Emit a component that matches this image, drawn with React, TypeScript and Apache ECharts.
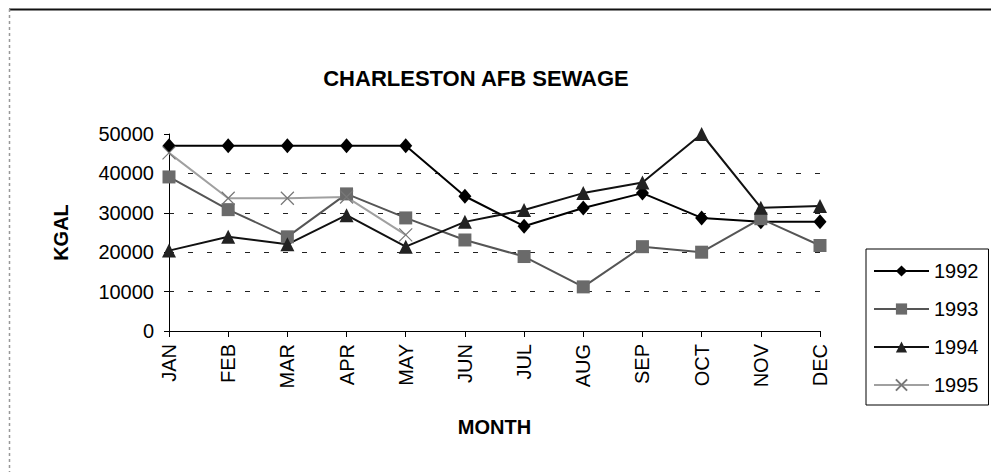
import React, { useEffect, useRef } from "react";
import * as echarts from "echarts";

const months = ["JAN", "FEB", "MAR", "APR", "MAY", "JUN", "JUL", "AUG", "SEP", "OCT", "NOV", "DEC"];
const s1992 = [47000, 47000, 47000, 47000, 47000, 34200, 26600, 31200, 35000, 28700, 27700, 27700];
const s1993 = [39100, 30800, 23900, 34800, 28700, 23100, 18900, 11200, 21400, 20000, 28500, 21700];
const s1994 = [20400, 23900, 22000, 29400, 21400, 27700, 30700, 35000, 37700, 50000, 31300, 31700];
const s1995 = [45200, 33700, 33700, 34000, 24400, null, null, null, null, null, null, null];
const yTicks = { min: 0, max: 50000, interval: 10000 };

const FONT = "'Liberation Sans', Arial, sans-serif";

export default function App() {
  const ref = useRef<HTMLDivElement>(null);
  useEffect(() => {
    if (!ref.current) return;
    const chart = echarts.init(ref.current, null, { renderer: "svg" });
    chart.setOption({
      animation: false,
      backgroundColor: "#ffffff",
      textStyle: { fontFamily: FONT },
      title: {
        text: "CHARLESTON AFB SEWAGE",
        left: 471,
        top: 62,
        textAlign: "center",
        textStyle: { fontFamily: FONT, fontSize: 22, fontWeight: "bold", color: "#000" },
      },
      graphic: [
        { type: "line", shape: { x1: 9, y1: 9.5, x2: 991, y2: 9.5 }, style: { stroke: "#111", lineWidth: 2 } },
        { type: "line", shape: { x1: 9.5, y1: 9, x2: 9.5, y2: 472 }, style: { stroke: "#999", lineWidth: 1.5, lineDash: [3, 3] } },
      ],
      legend: {
        orient: "vertical",
        left: 866,
        top: 249,
        padding: [12, 10, 10, 7],
        itemWidth: 55,
        itemHeight: 14,
        itemGap: 18,
        borderColor: "#000",
        borderWidth: 1,
        textStyle: { fontFamily: FONT, fontSize: 20, color: "#000" },
        data: ["1992", "1993", "1994", "1995"],
      },
      grid: { left: 169, right: 171, top: 134, bottom: 141 },
      xAxis: {
        type: "category",
        data: months,
        boundaryGap: false,
        name: "MONTH",
        nameLocation: "middle",
        nameGap: 86,
        nameTextStyle: { fontFamily: FONT, fontSize: 20, fontWeight: "bold", color: "#000", verticalAlign: "top" },
        axisLine: { lineStyle: { color: "#000", width: 1 } },
        axisTick: { show: true, length: 6, lineStyle: { color: "#000" } },
        axisLabel: { rotate: 90, margin: 13, fontFamily: FONT, fontSize: 20, color: "#000", interval: 0 },
        splitLine: { show: false },
      },
      yAxis: {
        type: "value",
        min: yTicks.min,
        max: yTicks.max,
        interval: yTicks.interval,
        name: "KGAL",
        nameLocation: "middle",
        nameGap: 98,
        nameRotate: 90,
        nameTextStyle: { fontFamily: FONT, fontSize: 20, fontWeight: "bold", color: "#000" },
        axisLine: { show: true, lineStyle: { color: "#000", width: 1 } },
        axisTick: { show: true, length: 5, lineStyle: { color: "#000" } },
        axisLabel: { margin: 15, fontFamily: FONT, fontSize: 20, color: "#000", formatter: (v: number) => String(v) },
        splitLine: { show: true, showMaxLine: false, showMinLine: false, lineStyle: { color: "#222", type: [5, 14], width: 1 } },
      },
      series: [
        {
          name: "1992",
          type: "line",
          data: s1992,
          symbol: "diamond",
          symbolSize: [13, 15],
          clip: false,
          lineStyle: { color: "#000", width: 2 },
          itemStyle: { color: "#000" },
        },
        {
          name: "1993",
          type: "line",
          data: s1993,
          symbol: "rect",
          symbolSize: 13,
          clip: false,
          lineStyle: { color: "#555", width: 2 },
          itemStyle: { color: "#6a6a6a" },
        },
        {
          name: "1994",
          type: "line",
          data: s1994,
          symbol: "triangle",
          symbolSize: 14,
          clip: false,
          lineStyle: { color: "#111", width: 2 },
          itemStyle: { color: "#222" },
        },
        {
          name: "1995",
          type: "line",
          data: s1995,
          symbol: "path://M0,0L10,10M10,0L0,10",
          symbolSize: 13,
          clip: false,
          connectNulls: false,
          lineStyle: { color: "#a0a0a0", width: 2 },
          itemStyle: { color: "transparent", borderColor: "#777", borderWidth: 1.2 },
        },
      ],
    });
    return () => chart.dispose();
  }, []);
  return <div ref={ref} style={{ position: "fixed", left: 0, top: 0, width: 991, height: 472 }} />;
}
